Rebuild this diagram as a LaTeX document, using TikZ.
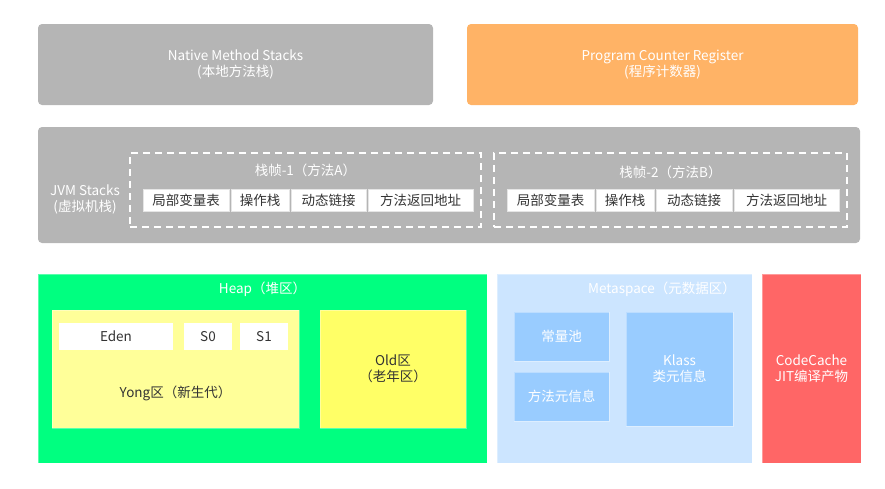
\documentclass[tikz,border=0pt]{standalone}
\usepackage{fontspec}
\setmainfont{Noto Sans CJK SC}
\usepackage{xcolor}
\usetikzlibrary{positioning}

\definecolor{stackgray}{HTML}{B5B5B5}
\definecolor{pcorange}{HTML}{FFB366}
\definecolor{heapgreen}{HTML}{00FF80}
\definecolor{younglight}{HTML}{FFFF99}
\definecolor{oldyellow}{HTML}{FFFF66}
\definecolor{metablue}{HTML}{CCE5FF}
\definecolor{metainner}{HTML}{99CCFF}
\definecolor{cachered}{HTML}{FF6666}
\definecolor{darktext}{HTML}{333333}

\begin{document}
\begin{tikzpicture}[x=1pt, y=-1pt,
  every node/.style = { inner sep=0pt, outer sep=0pt, align=center,
	font=\fontsize{13.5}{16}\selectfont},
  region/.style 2 args = { anchor=north west, minimum width=#1, minimum height=#2},
  rounded/.style = { rounded corners=4pt, text=white},
  edged/.style = { draw=white, draw opacity=.35, line width=.8pt},
  frame/.style = { draw=white, dashed, dash pattern=on 7pt off 5pt, line width=1.6pt},
  cell/.style = { fill=white, draw=black!10, text=darktext, minimum height=22pt},
  lbl/.style = { text=white}]

\useasboundingbox (0,0) rectangle (885,488);

% top row
\node[region={395pt}{81pt}, rounded, fill=stackgray] (native) at (38,24)
	 {Native Method Stacks\\(本地方法栈)};
\node[region={391pt}{81pt}, rounded, fill=pcorange] (pcr) at (467,24)
	 {Program Counter Register\\(程序计数器)};

% jvm stacks
\node[region={822pt}{116pt}, rounded, fill=stackgray] (jvm) at (38,127) {};
\node[lbl] (jvmtitle) at (85,199) {JVM Stacks\\(虚拟机栈)};

\node[region={351pt}{74pt}, frame] (frameA) at (130,153) {};
\node[lbl, below=17pt of frameA.north, anchor=center] (titleA) {栈帧-1（方法A）};
\node[cell, minimum width=86pt, anchor=west] (localsA) at (143,200) {局部变量表};
\node[cell, minimum width=58pt, right=2pt of localsA] (opA) {操作栈};
\node[cell, minimum width=75pt, right=2pt of opA] (linkA) {动态链接};
\node[cell, minimum width=105pt, right=2pt of linkA] (retA) {方法返回地址};

\node[region={353pt}{74pt}, frame] (frameB) at (494,153) {};
\node[lbl, below=19pt of frameB.north, anchor=center] (titleB) {栈帧-2（方法B）};
\node[cell, minimum width=87pt, anchor=west] (localsB) at (507,200) {局部变量表};
\node[cell, minimum width=58pt, right=2pt of localsB] (opB) {操作栈};
\node[cell, minimum width=76pt, right=2pt of opB] (linkB) {动态链接};
\node[cell, minimum width=105pt, right=2pt of linkB] (retB) {方法返回地址};

% heap
\node[region={449pt}{189pt}, edged, fill=heapgreen] (heap) at (38,274) {};
\node[lbl, below=15pt of heap.north, anchor=center] (heaptitle) {Heap（堆区）};
\node[region={247pt}{118pt}, edged, fill=younglight] (young) at (52,310) {};
\node[region={114pt}{27pt}, fill=white, text=darktext] (eden) at (59,323) {Eden};
\node[region={48pt}{27pt}, fill=white, text=darktext] (szero) at (184,323) {S0};
\node[region={48pt}{27pt}, fill=white, text=darktext] (sone) at (240,323) {S1};
\node[text=darktext, below=24pt of young.center, anchor=center] (youngtitle)
	 {Yong区（新生代）};
\node[region={146pt}{118pt}, edged, fill=oldyellow, text=darktext] (old) at (320,310)
	 {Old区\\（老年区）};

% metaspace
\node[region={255pt}{189pt}, edged, fill=metablue] (meta) at (497,274) {};
\node[lbl] (metatitle) at (662,289) {Metaspace（元数据区）};
\node[region={95pt}{49pt}, edged, fill=metainner, lbl] (pool) at (514,312) {常量池};
\node[region={95pt}{49pt}, edged, fill=metainner, lbl] (methodinfo) at (514,372) {方法元信息};
\node[region={107pt}{114pt}, edged, fill=metainner, lbl] (klass) at (626,312)
	 {Klass\\类元信息};

% code cache
\node[region={99pt}{189pt}, edged, fill=cachered, lbl] (cache) at (762,274)
	 {CodeCache\\JIT编译产物};
\end{tikzpicture}
\end{document}
